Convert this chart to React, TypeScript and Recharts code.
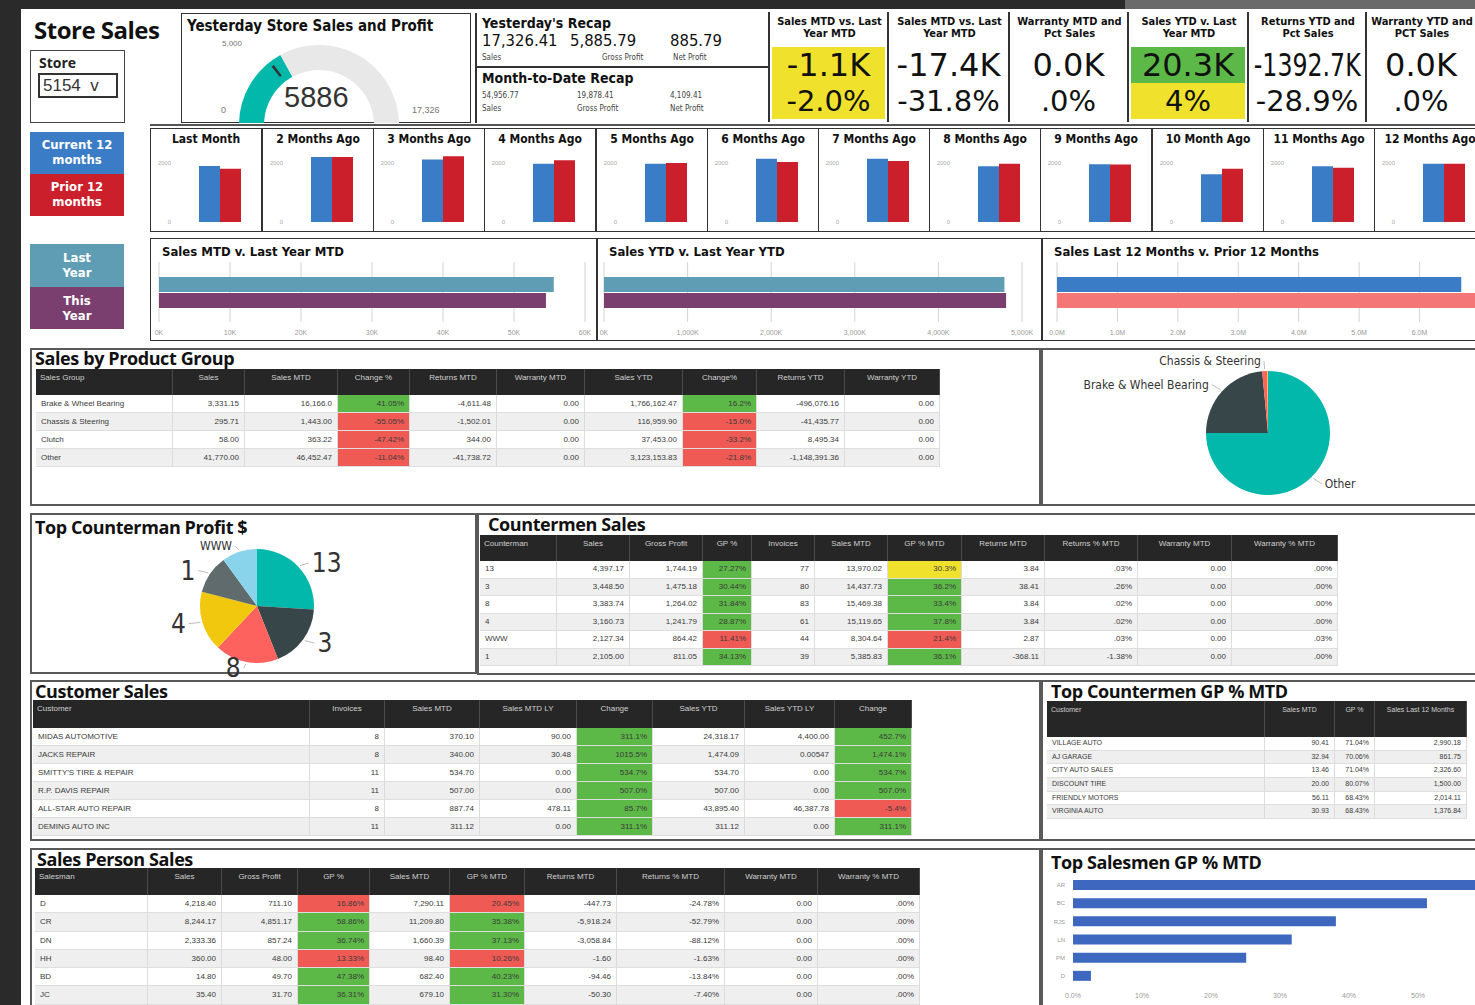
import React from 'react';
import { PieChart, Pie, Cell, BarChart, Bar, XAxis, YAxis, CartesianGrid } from 'recharts';

const NARROW = '"Liberation Sans Narrow","DejaVu Sans Condensed","Arial Narrow",sans-serif';
const SANS = '"Liberation Sans",Arial,sans-serif';
const TITLE = '"Open Sans","Noto Sans",sans-serif';
const BIG = '"DejaVu Sans",sans-serif';

const FILL: Record<string, string> = { g: '#5cb847', r: '#f05a55', y: '#f0e22c' };
const PBI = ['#01B8AA', '#374649', '#FD625E', '#F2C80F', '#5F6B6D', '#8AD4EB'];

// ---------- data ----------
const gaugeValue = 5886;
const gaugeMax = 17326;
const gaugeTarget = 5000;
const gaugeMarkerWidth = 200;
const gaugeLabels = ['0', '5,000', '17,326'];

const recapLabels = ['Sales', 'Gross Profit', 'Net Profit'];
const yesterdayRecap = ['17,326.41', '5,885.79', '885.79'];
const mtdRecap = ['54,956.77', '19,878.41', '4,109.41'];

const kpiTitles = [
  'Sales MTD vs. Last Year MTD',
  'Sales MTD vs. Last Year MTD',
  'Warranty MTD and Pct Sales',
  'Sales YTD v. Last Year MTD',
  'Returns YTD and Pct Sales',
  'Warranty YTD and PCT Sales',
];
const kpiValues = ['-1.1K', '-17.4K', '0.0K', '20.3K', '-1392.7K', '0.0K'];
const kpiPcts = ['-2.0%', '-31.8%', '.0%', '4%', '-28.9%', '.0%'];
const kpiValueFill = ['y', '', '', 'g', '', ''];
const kpiPctFill = ['y', '', '', 'y', '', ''];

const monthLabels = [
  'Last Month', '2 Months Ago', '3 Months Ago', '4 Months Ago', '5 Months Ago', '6 Months Ago',
  '7 Months Ago', '8 Months Ago', '9 Months Ago', '10 Month Ago', '11 Months Ago', '12 Months Ago',
];
const current12 = [1890, 2200, 2110, 1970, 1970, 2140, 2140, 1880, 1950, 1610, 1880, 1970];
const prior12 = [1800, 2200, 2220, 2090, 1990, 2030, 2060, 1970, 1940, 1800, 1830, 1970];
const monthTicks = [0, 2000];

const salesMTD = [55600, 54500]; // last year, this year
const salesYTD = [4790000, 4810000]; // last year, this year
const salesL12 = [6690000, 7000000]; // current 12, prior 12
const mtdTicks = [0, 10000, 20000, 30000, 40000, 50000, 60000];
const ytdTicks = [0, 1000000, 2000000, 3000000, 4000000, 5000000];
const l12Ticks = [0, 1000000, 2000000, 3000000, 4000000, 5000000, 6000000];

const productGroups = ['Other', 'Brake & Wheel Bearing', 'Chassis & Steering', 'Clutch'];
const productShare = [75, 23.5, 1.3, 0.2];

const productHeaders = ['Sales Group', 'Sales', 'Sales MTD', 'Change %', 'Returns MTD', 'Warranty MTD', 'Sales YTD', 'Change%', 'Returns YTD', 'Warranty YTD'];
const productRows = [
  ['Brake & Wheel Bearing', '3,331.15', '16,166.0', '41.05%', '-4,611.48', '0.00', '1,766,162.47', '16.2%', '-496,076.16', '0.00'],
  ['Chassis & Steering', '295.71', '1,443.00', '-55.05%', '-1,502.01', '0.00', '116,959.90', '-15.0%', '-41,435.77', '0.00'],
  ['Clutch', '58.00', '363.22', '-47.42%', '344.00', '0.00', '37,453.00', '-33.2%', '8,495.34', '0.00'],
  ['Other', '41,770.00', '46,452.47', '-11.04%', '-41,738.72', '0.00', '3,123,153.83', '-21.8%', '-1,148,391.36', '0.00'],
];
const productFills: Record<number, string[]> = { 3: ['g', 'r', 'r', 'r'], 7: ['g', 'r', 'r', 'r'] };

const countermen = ['13', '3', '8', '4', '1', 'WWW'];
const countermanProfitShare = [26, 18, 18, 17, 11, 10];

const countermanHeaders = ['Counterman', 'Sales', 'Gross Profit', 'GP %', 'Invoices', 'Sales MTD', 'GP % MTD', 'Returns MTD', 'Returns % MTD', 'Warranty MTD', 'Warranty % MTD'];
const countermanRows = [
  ['13', '4,397.17', '1,744.19', '27.27%', '77', '13,970.02', '30.3%', '3.84', '.03%', '0.00', '.00%'],
  ['3', '3,448.50', '1,475.18', '30.44%', '80', '14,437.73', '36.2%', '38.41', '.26%', '0.00', '.00%'],
  ['8', '3,383.74', '1,264.02', '31.84%', '83', '15,469.38', '33.4%', '3.84', '.02%', '0.00', '.00%'],
  ['4', '3,160.73', '1,241.79', '28.87%', '61', '15,119.65', '37.8%', '3.84', '.02%', '0.00', '.00%'],
  ['WWW', '2,127.34', '864.42', '11.41%', '44', '8,304.64', '21.4%', '2.87', '.03%', '0.00', '.03%'],
  ['1', '2,105.00', '811.05', '34.13%', '39', '5,385.83', '36.1%', '-368.11', '-1.38%', '0.00', '.00%'],
];
const countermanFills: Record<number, string[]> = {
  3: ['g', 'g', 'g', 'g', 'r', 'g'],
  6: ['y', 'g', 'g', 'g', 'r', 'g'],
};

const customerHeaders = ['Customer', 'Invoices', 'Sales MTD', 'Sales MTD LY', 'Change', 'Sales YTD', 'Sales YTD LY', 'Change'];
const customerRows = [
  ['MIDAS AUTOMOTIVE', '8', '370.10', '90.00', '311.1%', '24,318.17', '4,400.00', '452.7%'],
  ['JACKS REPAIR', '8', '340.00', '30.48', '1015.5%', '1,474.09', '0.00547', '1,474.1%'],
  ["SMITTY'S TIRE & REPAIR", '11', '534.70', '0.00', '534.7%', '534.70', '0.00', '534.7%'],
  ['R.P. DAVIS REPAIR', '11', '507.00', '0.00', '507.0%', '507.00', '0.00', '507.0%'],
  ['ALL-STAR AUTO REPAIR', '8', '887.74', '478.11', '85.7%', '43,895.40', '46,387.78', '-5.4%'],
  ['DEMING AUTO INC', '11', '311.12', '0.00', '311.1%', '311.12', '0.00', '311.1%'],
];
const customerFills: Record<number, string[]> = {
  4: ['g', 'g', 'g', 'g', 'g', 'g'],
  7: ['g', 'g', 'g', 'g', 'r', 'g'],
};

const topCounterHeaders = ['Customer', 'Sales MTD', 'GP %', 'Sales Last 12 Months'];
const topCounterRows = [
  ['VILLAGE AUTO', '90.41', '71.04%', '2,990.18'],
  ['AJ GARAGE', '32.94', '70.06%', '861.75'],
  ['CITY AUTO SALES', '13.46', '71.04%', '2,326.60'],
  ['DISCOUNT TIRE', '20.00', '80.07%', '1,500.00'],
  ['FRIENDLY MOTORS', '56.11', '68.43%', '2,014.11'],
  ['VIRGINIA AUTO', '30.93', '68.43%', '1,376.84'],
];

const salesPersonHeaders = ['Salesman', 'Sales', 'Gross Profit', 'GP %', 'Sales MTD', 'GP % MTD', 'Returns MTD', 'Returns % MTD', 'Warranty MTD', 'Warranty % MTD'];
const salesPersonRows = [
  ['D', '4,218.40', '711.10', '16.86%', '7,290.11', '20.45%', '-447.73', '-24.78%', '0.00', '.00%'],
  ['CR', '8,244.17', '4,851.17', '58.86%', '11,209.80', '35.38%', '-5,918.24', '-52.79%', '0.00', '.00%'],
  ['DN', '2,333.36', '857.24', '36.74%', '1,660.39', '37.13%', '-3,058.84', '-88.12%', '0.00', '.00%'],
  ['HH', '360.00', '48.00', '13.33%', '98.40', '10.26%', '-1.60', '-1.63%', '0.00', '.00%'],
  ['BD', '14.80', '49.70', '47.38%', '682.40', '40.23%', '-94.46', '-13.84%', '0.00', '.00%'],
  ['JC', '35.40', '31.70', '36.31%', '679.10', '31.30%', '-50.30', '-7.40%', '0.00', '.00%'],
];
const salesPersonFills: Record<number, string[]> = {
  3: ['r', 'g', 'g', 'r', 'g', 'g'],
  5: ['r', 'g', 'g', 'r', 'g', 'g'],
};

const salesmenNames = ['AR', 'BC', 'RJS', 'LN', 'PM', 'D'];
const salesmenGP = [0.6, 0.513, 0.381, 0.317, 0.251, 0.026];
const salesmenTicks = [0, 0.1, 0.2, 0.3, 0.4, 0.5];

// ---------- helpers ----------
const abs = (x: number, y: number, w?: number, h?: number): React.CSSProperties => ({
  position: 'absolute', left: x, top: y, width: w, height: h, boxSizing: 'border-box',
});

function Table({ x, y, widths, headers, rows, fills, headH, rowH, fs = 8 }: any) {
  return (
    <div style={{ ...abs(x, y) }}>
      <div style={{ display: 'flex', height: headH, background: '#262626' }}>
        {headers.map((h: string, i: number) => (
          <div key={i} style={{
            width: widths[i], color: '#cfcfcf', fontSize: fs, fontFamily: SANS, padding: '4px 4px',
            boxSizing: 'border-box', textAlign: i === 0 ? 'left' : 'center', borderRight: '1px solid #4a4a4a',
            lineHeight: '10px', overflow: 'hidden',
          }}>{h}</div>
        ))}
      </div>
      {rows.map((r: string[], ri: number) => (
        <div key={ri} style={{ display: 'flex', height: rowH, background: ri % 2 ? '#efefef' : '#fff', borderBottom: '1px solid #dedede', boxSizing: 'border-box' }}>
          {r.map((c, ci) => {
            const f = fills && fills[ci] ? fills[ci][ri] : '';
            return (
              <div key={ci} style={{
                width: widths[ci], background: f ? FILL[f] : undefined, textAlign: ci === 0 ? 'left' : 'right',
                fontSize: fs, fontFamily: SANS, lineHeight: rowH - 1 + 'px', padding: '0 5px', boxSizing: 'border-box',
                borderRight: '1px solid #dcdcdc', color: '#3a3a3a', whiteSpace: 'nowrap', overflow: 'hidden',
              }}>{c}</div>
            );
          })}
        </div>
      ))}
    </div>
  );
}

function MiniChart({ x, label, cur, prior }: any) {
  const data = [{ m: label, cur, prior }];
  return (
    <div style={{ ...abs(x, 128, 112, 104), border: '1.5px solid #333', background: '#fff', overflow: 'hidden' }}>
      <div style={{ position: 'absolute', top: 3, left: 2, width: 106, textAlign: 'center', fontFamily: NARROW, fontWeight: 700, fontSize: 12, color: '#111', whiteSpace: 'nowrap' }}>{label}</div>
      <div style={{ position: 'absolute', left: -1.5, top: -1.5 }}>
        <BarChart width={111} height={102} data={data} margin={{ top: 20, right: 6, bottom: 8, left: 5 }} barSize={21} barGap={0}>
          <XAxis dataKey="m" hide />
          <YAxis domain={[0, 2500]} ticks={monthTicks} width={30} tick={{ fontSize: 6, fill: '#aaa', dx: -6 }} axisLine={false} tickLine={false} interval={0} />
          <Bar dataKey="cur" fill="#3b7cc6" isAnimationActive={false} />
          <Bar dataKey="prior" fill="#cc1f2c" isAnimationActive={false} />
        </BarChart>
      </div>
    </div>
  );
}

function HCompare({ x, w, cw, title, values, colors, domain, ticks, fmt, ml, mr }: any) {
  const data = [{ k: title, a: values[0], b: values[1] }];
  return (
    <div style={{ ...abs(x, 238, w, 103), border: '1.5px solid #333', background: '#fff', overflow: 'hidden' }}>
      <div style={{ position: 'absolute', left: 11, top: 5, fontFamily: NARROW, fontWeight: 700, fontSize: 13, color: '#111', whiteSpace: 'nowrap' }}>{title}</div>
      <div style={{ position: 'absolute', left: -1.5, top: -1.5 }}>
        <BarChart width={cw} height={102} data={data} layout="vertical" margin={{ top: 24, right: mr, bottom: 4, left: ml }} barSize={15} barGap={1}>
          <CartesianGrid horizontal={false} stroke="#d4d4d4" />
          <XAxis type="number" domain={domain} ticks={ticks} tickFormatter={fmt} axisLine={false} tickLine={false} tick={{ fontSize: 7, fill: '#999' }} height={14} interval={0} />
          <YAxis type="category" dataKey="k" hide />
          <Bar dataKey="a" fill={colors[0]} isAnimationActive={false} />
          <Bar dataKey="b" fill={colors[1]} isAnimationActive={false} />
        </BarChart>
      </div>
    </div>
  );
}

const RAD = Math.PI / 180;
function pieLabel(fontSize: number, family: string, minPct: number, smallNames: string[], smallSize: number, rx: number, ry: number) {
  return (props: any) => {
    const { cx, cy, midAngle, outerRadius, name, percent } = props;
    if (percent * 100 < minPct) return null;
    const cos = Math.cos(-midAngle * RAD);
    const sin = Math.sin(-midAngle * RAD);
    const x1 = cx + (outerRadius + 2) * cos, y1 = cy + (outerRadius + 2) * sin;
    const x2 = cx + (outerRadius + rx) * cos, y2 = cy + (outerRadius + ry) * sin;
    const right = cos >= 0;
    const fs = smallNames.includes(name) ? smallSize : fontSize;
    return (
      <g>
        <line x1={x1} y1={y1} x2={x2} y2={y2} stroke="#bbb" strokeWidth={1} />
        <text x={x2 + (right ? 3 : -3)} y={y2} textAnchor={right ? 'start' : 'end'} dominantBaseline="central" fontSize={fs} fontFamily={family} fill="#333">{name}</text>
      </g>
    );
  };
}

const panelBorder = '2px solid #5a5a5a';
const sectionTitle = (text: string, x: number, y: number, size = 18): React.ReactNode => (
  <div style={{ ...abs(x, y), fontFamily: TITLE, fontWeight: 700, fontSize: size, lineHeight: size + 'px', color: '#111', whiteSpace: 'nowrap', letterSpacing: -0.4 }}>{text}</div>
);

export default function App() {
  const gaugeData = [{ v: gaugeValue }, { v: gaugeMax - gaugeValue }];
  const markerData = [{ v: gaugeTarget - gaugeMarkerWidth / 2 }, { v: gaugeMarkerWidth }, { v: gaugeMax - gaugeTarget - gaugeMarkerWidth / 2 }];
  const productPie = productGroups.map((n, i) => ({ name: n, v: productShare[i] }));
  const counterPie = countermen.map((n, i) => ({ name: n, v: countermanProfitShare[i] }));
  const salesmenData = salesmenNames.map((n, i) => ({ n, v: salesmenGP[i] }));
  const kpiX = [768, 887, 1008, 1127, 1247, 1365, 1475];
  const miniX = [150, 262, 373, 484, 596, 707, 818, 929, 1040, 1152, 1263, 1374];

  return (
    <div style={{ position: 'absolute', left: 0, top: 0, width: 1475, height: 1005, overflow: 'hidden', background: '#fff', fontFamily: SANS }}>
      {/* frame */}
      <div style={{ ...abs(0, 0, 1475, 9), background: '#2a2a2a' }} />
      <div style={{ ...abs(1125, 0, 350, 9), background: '#6a6a6a' }} />
      <div style={{ ...abs(0, 0, 21, 1005), background: '#2a2a2a' }} />

      {/* row 1: title + slicer */}
      <div style={{ ...abs(34, 13), fontFamily: TITLE, fontWeight: 700, fontSize: 24, color: '#111', letterSpacing: -0.5 }}>Store Sales</div>
      <div style={{ ...abs(30, 50, 95, 73), border: '1.5px solid #444' }}>
        <div style={{ ...abs(8, 2), fontFamily: TITLE, fontWeight: 700, fontSize: 14, color: '#222' }}>Store</div>
        <div style={{ ...abs(7, 22, 80, 25), border: '2px solid #333', fontSize: 17, fontFamily: SANS, color: '#333', lineHeight: '21px', paddingLeft: 3 }}>5154&nbsp;&nbsp;v</div>
      </div>

      {/* gauge */}
      <div style={{ ...abs(181, 13, 290, 110), border: '1.5px solid #333' }}>
        <div style={{ ...abs(5, 3), fontFamily: NARROW, fontWeight: 700, fontSize: 15, color: '#111', whiteSpace: 'nowrap' }}>Yesterday Store Sales and Profit</div>
        <div style={{ position: 'absolute', left: -1.5, top: -1.5 }}>
          <PieChart width={290} height={110}>
            <Pie data={gaugeData} dataKey="v" cx={133} cy={107} startAngle={180} endAngle={0} innerRadius={55} outerRadius={80} stroke="none" isAnimationActive={false}>
              <Cell fill="#01B8AA" />
              <Cell fill="#e8e8e8" />
            </Pie>
            <Pie data={markerData} dataKey="v" cx={133} cy={107} startAngle={180} endAngle={0} innerRadius={62} outerRadius={75} stroke="none" isAnimationActive={false}>
              <Cell fill="transparent" />
              <Cell fill="#333" />
              <Cell fill="transparent" />
            </Pie>
          </PieChart>
        </div>
        <div style={{ ...abs(39, 91), fontSize: 9, color: '#777' }}>{gaugeLabels[0]}</div>
        <div style={{ ...abs(40, 25), fontSize: 8, color: '#777' }}>{gaugeLabels[1]}</div>
        <div style={{ ...abs(230, 91), fontSize: 9, color: '#777' }}>{gaugeLabels[2]}</div>
        <div style={{ ...abs(102, 67), fontSize: 29, color: '#333', fontFamily: SANS }}>{gaugeValue}</div>
      </div>

      {/* recap */}
      <div style={{ ...abs(475, 13, 292, 110), borderLeft: '2px solid #333' }}>
        <div style={{ ...abs(5, 2), fontFamily: NARROW, fontWeight: 700, fontSize: 14, color: '#111' }}>Yesterday's Recap</div>
        {yesterdayRecap.map((v, i) => (
          <div key={i} style={{ ...abs([5, 93, 193][i], 18), fontFamily: NARROW, fontSize: 16.5, color: '#111', whiteSpace: 'nowrap' }}>{v}</div>
        ))}
        {recapLabels.map((v, i) => (
          <div key={i} style={{ ...abs([5, 125, 196][i], 40), fontFamily: NARROW, fontSize: 8, color: '#444' }}>{v}</div>
        ))}
        <div style={{ ...abs(0, 53, 292, 2), background: '#333' }} />
        <div style={{ ...abs(5, 57), fontFamily: NARROW, fontWeight: 700, fontSize: 14, color: '#111' }}>Month-to-Date Recap</div>
        {mtdRecap.map((v, i) => (
          <div key={i} style={{ ...abs([5, 100, 193][i], 78), fontFamily: NARROW, fontSize: 8, color: '#444' }}>{v}</div>
        ))}
        {recapLabels.map((v, i) => (
          <div key={i} style={{ ...abs([5, 100, 193][i], 91), fontFamily: NARROW, fontSize: 8, color: '#444' }}>{v}</div>
        ))}
      </div>

      {/* KPI cards */}
      {kpiTitles.map((t, i) => {
        const x = kpiX[i];
        const w = kpiX[i + 1] - x;
        return (
          <div key={i} style={{ ...abs(x, 12, w, 110), borderLeft: '2px solid #333' }}>
            <div style={{ ...abs(2, 4, w - 4, 30), textAlign: 'center', fontFamily: NARROW, fontWeight: 700, fontSize: 11, lineHeight: '12px', color: '#111', overflow: 'hidden' }}>{t}</div>
            <div style={{ ...abs(2, 35, w - 6, 36), background: kpiValueFill[i] ? FILL[kpiValueFill[i]] : undefined, display: 'flex', justifyContent: 'center', fontFamily: BIG, fontSize: 32, lineHeight: '36px', color: '#111', whiteSpace: 'nowrap' }}>
              <span style={{ display: 'inline-block', flexShrink: 0, transform: kpiValues[i].length > 6 ? 'scaleX(0.74)' : undefined, transformOrigin: 'center' }}>{kpiValues[i]}</span>
            </div>
            <div style={{ ...abs(2, 71, w - 6, 36), background: kpiPctFill[i] ? FILL[kpiPctFill[i]] : undefined, display: 'flex', justifyContent: 'center', fontFamily: BIG, fontSize: 29, lineHeight: '36px', color: '#111', whiteSpace: 'nowrap' }}>
              <span style={{ flexShrink: 0 }}>{kpiPcts[i]}</span>
            </div>
          </div>
        );
      })}
      <div style={{ ...abs(150, 124, 1325, 2), background: '#555' }} />

      {/* row 2: legend + minis */}
      <div style={{ ...abs(30, 132, 94, 42), background: '#3b7cc6', color: '#fff', fontFamily: NARROW, fontWeight: 700, fontSize: 13, lineHeight: '15px', textAlign: 'center', paddingTop: 5 }}>Current 12<br />months</div>
      <div style={{ ...abs(30, 174, 94, 42), background: '#cc1f2c', color: '#fff', fontFamily: NARROW, fontWeight: 700, fontSize: 13, lineHeight: '15px', textAlign: 'center', paddingTop: 5 }}>Prior 12<br />months</div>
      {monthLabels.map((m, i) => (
        <MiniChart key={i} x={miniX[i]} label={m} cur={current12[i]} prior={prior12[i]} />
      ))}

      {/* row 3 */}
      <div style={{ ...abs(30, 244, 94, 43), background: '#5e9db3', color: '#fff', fontFamily: NARROW, fontWeight: 700, fontSize: 13, lineHeight: '15px', textAlign: 'center', paddingTop: 6 }}>Last<br />Year</div>
      <div style={{ ...abs(30, 287, 94, 42), background: '#7b3f6f', color: '#fff', fontFamily: NARROW, fontWeight: 700, fontSize: 13, lineHeight: '15px', textAlign: 'center', paddingTop: 6 }}>This<br />Year</div>
      <HCompare x={150} w={447} cw={446} title="Sales MTD v. Last Year MTD" values={salesMTD} colors={['#5e9db3', '#7b3f6f']}
        domain={[0, 60000]} ticks={mtdTicks} fmt={(v: number) => `${v / 1000}K`} ml={9} mr={11} />
      <HCompare x={597} w={445} cw={444} title="Sales YTD v. Last Year YTD" values={salesYTD} colors={['#5e9db3', '#7b3f6f']}
        domain={[0, 5000000]} ticks={ytdTicks} fmt={(v: number) => `${(v / 1000).toLocaleString('en-US')}K`} ml={7} mr={19} />
      <HCompare x={1042} w={440} cw={440} title="Sales Last 12 Months v. Prior 12 Months" values={salesL12} colors={['#3b7cc6', '#f47676']}
        domain={[0, 7000000]} ticks={l12Ticks} fmt={(v: number) => `${(v / 1000000).toFixed(1)}M`} ml={15} mr={2} />

      {/* row 4: product group */}
      <div style={{ ...abs(30, 348, 1011, 158), border: panelBorder }} />
      {sectionTitle('Sales by Product Group', 35, 349)}
      <Table x={36} y={369} widths={[137, 72, 93, 72, 87, 88, 98, 74, 88, 95]} headers={productHeaders} rows={productRows} fills={productFills} headH={26} rowH={18} />
      <div style={{ ...abs(1041, 348, 440, 158), border: panelBorder }}>
        <div style={{ position: 'absolute', left: -2, top: -2 }}>
          <PieChart width={440} height={158}>
            <Pie data={productPie} dataKey="v" nameKey="name" cx={222} cy={80} outerRadius={62} startAngle={90} endAngle={-270} stroke="none"
              isAnimationActive={false} labelLine={false} label={pieLabel(12, NARROW, 1, [], 12, 14, 10)}>
              {productPie.map((_, i) => <Cell key={i} fill={PBI[i]} />)}
            </Pie>
          </PieChart>
        </div>
      </div>

      {/* row 5: countermen */}
      <div style={{ ...abs(30, 513, 447, 161), border: panelBorder }} />
      <div style={{ ...abs(28, 511) }}>
        <PieChart width={447} height={180}>
          <Pie data={counterPie} dataKey="v" nameKey="name" cx={224} cy={90} outerRadius={57} startAngle={90} endAngle={-270} stroke="none"
            isAnimationActive={false} labelLine={false} label={pieLabel(26, NARROW, 0, ['WWW'], 12, 14, 6)}>
            {counterPie.map((_, i) => <Cell key={i} fill={PBI[i]} />)}
          </Pie>
        </PieChart>
      </div>
      {sectionTitle('Top Counterman Profit $', 35, 518)}
      <div style={{ ...abs(477, 513, 1000, 162), border: panelBorder }} />
      {sectionTitle('Countermen Sales', 488, 515)}
      <Table x={480} y={535} widths={[77, 73, 73, 49, 63, 73, 74, 83, 93, 94, 106]} headers={countermanHeaders} rows={countermanRows} fills={countermanFills} headH={26} rowH={17.5} />

      {/* row 6: customers */}
      <div style={{ ...abs(30, 680, 1011, 161), border: panelBorder }} />
      {sectionTitle('Customer Sales', 35, 682)}
      <Table x={33} y={700} widths={[277, 75, 95, 97, 76, 92, 90, 77]} headers={customerHeaders} rows={customerRows} fills={customerFills} headH={28} rowH={18} />
      <div style={{ ...abs(1041, 680, 440, 161), border: panelBorder }} />
      {sectionTitle('Top Countermen GP % MTD', 1051, 682)}
      <Table x={1047} y={701} widths={[218, 70, 40, 92]} headers={topCounterHeaders} rows={topCounterRows} headH={36} rowH={13.7} fs={7} />

      {/* row 7: sales person */}
      <div style={{ ...abs(30, 848, 1011, 160), border: panelBorder }} />
      {sectionTitle('Sales Person Sales', 37, 850)}
      <Table x={35} y={868} widths={[113, 74, 76, 72, 80, 75, 92, 108, 93, 102]} headers={salesPersonHeaders} rows={salesPersonRows} fills={salesPersonFills} headH={27} rowH={18.3} />
      <div style={{ ...abs(1041, 848, 440, 160), border: panelBorder, overflow: 'hidden' }}>
        <div style={{ position: 'absolute', left: -2, top: -2 }}>
          <BarChart width={446} height={157} data={salesmenData} layout="vertical" margin={{ top: 28, right: 0, bottom: 6, left: 8 }} barCategoryGap="22%">
            <XAxis type="number" domain={[0, 0.6]} ticks={salesmenTicks} tickFormatter={(v: number) => (v === 0 ? '0.0%' : `${Math.round(v * 100)}%`)}
              axisLine={false} tickLine={false} tick={{ fontSize: 7, fill: '#999' }} height={14} interval={0} />
            <YAxis type="category" dataKey="n" width={24} axisLine={false} tickLine={false} tick={{ fontSize: 6, fill: '#999' }} interval={0} />
            <Bar dataKey="v" fill="#3e67bf" isAnimationActive={false} />
          </BarChart>
        </div>
      </div>
      {sectionTitle('Top Salesmen GP % MTD', 1051, 853)}
    </div>
  );
}
